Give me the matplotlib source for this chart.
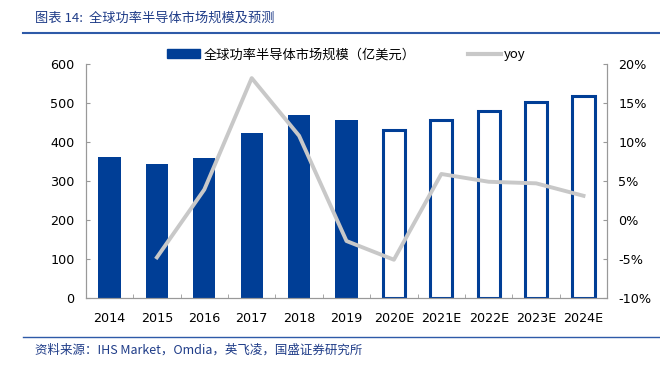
import numpy as np
import matplotlib
matplotlib.use('Agg')
import matplotlib.pyplot as plt
from matplotlib.lines import Line2D

plt.rcParams['font.family'] = ['DejaVu Sans', 'Noto Sans CJK SC']

# 数据
years = ['2014', '2015', '2016', '2017', '2018', '2019',
         '2020E', '2021E', '2022E', '2023E', '2024E']
market = [361, 344, 359, 423, 469, 456, 431, 456, 479, 503, 518]
yoy = [np.nan, -4.8, 3.9, 18.2, 10.8, -2.7, -5.1, 5.9, 4.9, 4.7, 3.1]
n_actual = 6  # 2014-2019 实际值, 之后为预测

blue = '#003E96'
grey = '#C8C8C8'
text_blue = '#1F3C88'
cjk = ['Noto Sans CJK SC', 'DejaVu Sans']

fig = plt.figure(figsize=(6.6, 3.66), dpi=100)
ax = fig.add_axes([0.130, 0.186, 0.790, 0.639])
ax2 = ax.twinx()

x = np.arange(len(years))
w = 0.47
ax.bar(x[:n_actual], market[:n_actual], width=w, color=blue, zorder=2)
ax.bar(x[n_actual:], market[n_actual:], width=w, facecolor='white',
       edgecolor=blue, linewidth=2.2, zorder=2)
ax2.plot(x, yoy, color=grey, lw=2.8, zorder=3)

ax.set_xlim(-0.5, len(years) - 0.5)
ax.set_ylim(0, 600)
ax.set_yticks(range(0, 601, 100))
ax2.set_ylim(-10, 20)
ax2.set_yticks(range(-10, 21, 5))
ax2.set_yticklabels([f'{v}%' for v in range(-10, 21, 5)])

ax.set_xticks(x)
ax.set_xticklabels(years)
ax.set_xticks(np.arange(-0.5, len(years), 1), minor=True)
ax.tick_params(axis='x', which='major', length=0, labelsize=9.2, pad=10)
ax.tick_params(axis='x', which='minor', length=3, direction='in', color='#999999')
ax.tick_params(axis='y', direction='in', length=3, labelsize=9.2, color='#999999', pad=8)
ax2.tick_params(axis='y', direction='in', length=3, labelsize=9.2, color='#999999', pad=8)

for a in (ax, ax2):
    a.spines['top'].set_visible(False)
    for s in ('left', 'right', 'bottom'):
        a.spines[s].set_color('#999999')
        a.spines[s].set_linewidth(0.8)

# 图例
handles = [plt.Rectangle((0, 0), 1, 1, color=blue),
           Line2D([0], [0], color=grey, lw=3)]
labels = ['全球功率半导体市场规模（亿美元）', 'yoy']
leg = fig.legend(handles, labels, ncol=2, frameon=False,
                 loc='center left', bbox_to_anchor=(0.245, 0.85),
                 prop={'family': cjk, 'size': 9.5}, columnspacing=4.0,
                 handlelength=2.5, handletextpad=0.25, borderaxespad=0)

# 标题与来源
fig.text(0.053, 0.950, '图表 14:  全球功率半导体市场规模及预测', color=text_blue,
         fontsize=9.5, style='italic', family=cjk, va='center')
fig.add_artist(Line2D([0.035, 1.0], [0.910, 0.910], color='#2E5AA8', lw=1.5))
fig.add_artist(Line2D([0.035, 1.0], [0.080, 0.080], color='#2E5AA8', lw=1.0))
fig.text(0.053, 0.044, '资料来源：IHS Market，Omdia，英飞凌，国盛证券研究所', color=text_blue,
         fontsize=9, style='italic', family=cjk, va='center')

fig.savefig('out.png', dpi=100)
